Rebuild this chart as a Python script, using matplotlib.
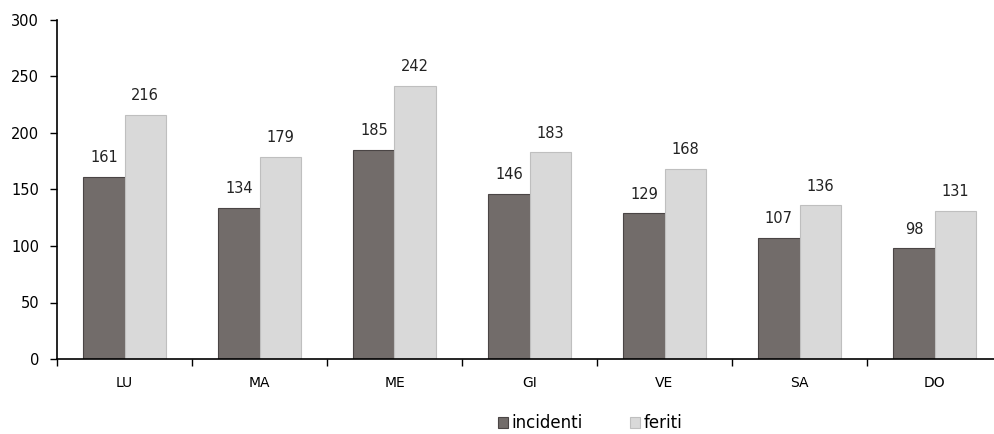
import matplotlib
matplotlib.use("Agg")
import matplotlib.pyplot as plt
import numpy as np

days = ["LU", "MA", "ME", "GI", "VE", "SA", "DO"]
incidenti = [161, 134, 185, 146, 129, 107, 98]
feriti = [216, 179, 242, 183, 168, 136, 131]

plt.rcParams['font.family'] = ['DejaVu Sans']

fig = plt.figure(figsize=(9.94, 4.34), dpi=100)
# axes reaches past the right edge, as in the original (cropped)
ax = fig.add_axes([57 / 994, (434 - 359) / 434, 945 / 994, 339 / 434])

x = np.arange(len(days))
w = 0.305
dark = ax.bar(x - w / 2, incidenti, w, color='#726c6a', edgecolor='#4a4545',
              linewidth=0.8, label='incidenti')
light = ax.bar(x + w / 2, feriti, w, color='#d9d9d9', edgecolor='#bfbfbf',
               linewidth=0.8, label='feriti')

for xi, v in zip(x - w / 2, incidenti):
    ax.text(xi, v + 17, str(v), ha='center', va='center', fontsize=10.5, color='#222222')
for xi, v in zip(x + w / 2, feriti):
    ax.text(xi, v + 17, str(v), ha='center', va='center', fontsize=10.5, color='#222222')

ax.set_xlim(-0.5, len(days) - 0.5)
ax.set_ylim(0, 300)
ax.set_yticks(range(0, 301, 50))
ax.tick_params(axis='y', labelsize=10.5, length=5, width=1, direction='out', pad=8)

# category labels in the middle, ticks at the boundaries
ax.set_xticks(x)
ax.set_xticklabels(days, fontsize=10)
ax.tick_params(axis='x', which='major', length=0, pad=12)
ax.set_xticks(np.arange(-0.5, len(days), 1), minor=True)
ax.tick_params(axis='x', which='minor', length=5, width=1, direction='out')

for s in ['top', 'right']:
    ax.spines[s].set_visible(False)
for s in ['left', 'bottom']:
    ax.spines[s].set_linewidth(1.2)
    ax.spines[s].set_color('black')

fig.legend(handles=[dark, light], loc='center', bbox_to_anchor=(590 / 994, 1 - 423 / 434),
           ncol=2, frameon=False, fontsize=12, handlelength=0.65, handleheight=0.65,
           handletextpad=0.2, columnspacing=2.8, borderpad=0)

fig.savefig("out.png", dpi=100)
